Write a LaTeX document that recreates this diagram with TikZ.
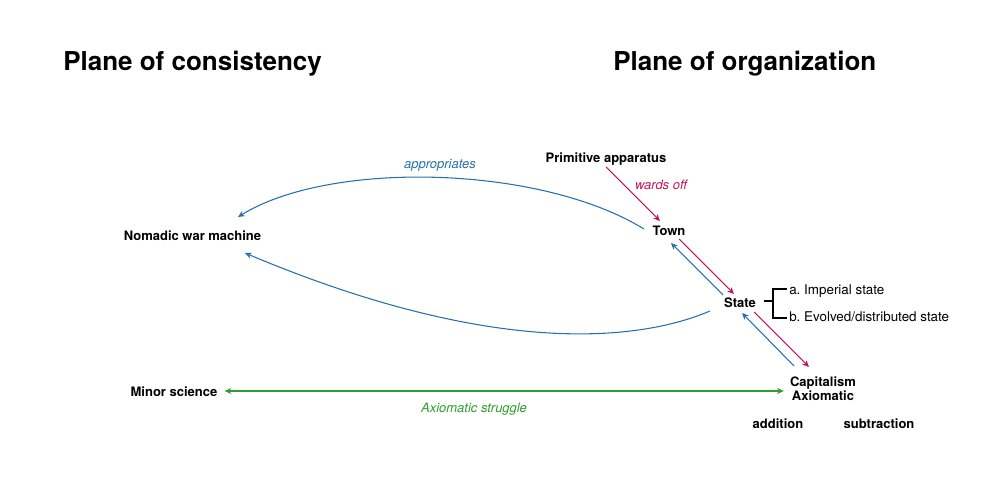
\documentclass[tikz,border=0pt]{standalone}
\usepackage{fontspec}
\setmainfont{TeX Gyre Heros}
\usetikzlibrary{arrows.meta,calc}
\definecolor{cblue}{HTML}{2870AD}
\definecolor{cmag}{HTML}{C2185B}
\definecolor{cgreen}{HTML}{2E9E2E}
\frenchspacing
\begin{document}
\begin{tikzpicture}[x=0.75pt,y=-0.75pt,
  lbl/.style={font=\fontsize{9.75}{10.5}\selectfont\bfseries, inner sep=0, anchor=base},
  txt/.style={font=\fontsize{10.05}{10.5}\selectfont, inner sep=0, anchor=base west},
  ital/.style={font=\fontsize{9.75}{10.5}\selectfont\itshape, inner sep=0, anchor=base},
  ttl/.style={font=\fontsize{19.5}{23}\selectfont\bfseries, inner sep=0, anchor=base west},
  arr/.style={line width=0.8pt, -{Stealth[length=5pt,width=4.5pt]}},
  barr/.style={line width=0.8pt, {Stealth[length=5pt,width=4.5pt]}-{Stealth[length=5pt,width=4.5pt]}},
  brk/.style={line width=0.8pt, black}]
\path[use as bounding box] (0,0) rectangle (1000,499);

% titles
\node[ttl] (t1) at (63,71) {Plane of consistency};
\node[ttl] (t2) at (613,71) {Plane of organization};

% nodes
\node[lbl] (nomad) at (192.5,241) {Nomadic war machine};
\node[lbl] (prim) at (606,163) {Primitive apparatus};
\node[lbl] (town) at (669,236) {Town};
\node[lbl] (state) at (740,307) {State};
\node[lbl, anchor=center, align=center] (cap) at (823,389) {Capitalism\\Axiomatic};
\node[lbl] (minor) at (174,396) {Minor science};
\node[lbl] (add) at (778,428) {addition};
\node[lbl] (sub) at (879,428) {subtraction};
\node[txt] (imp) at (789,294) {a. Imperial state};
\node[txt] (evo) at (789,321) {b. Evolved/distributed state};

% bracket
\draw[brk] ($(state.base east)+(8,-6)$) -- (773,301);
\draw[brk] ($(imp.base west)+(-2,-5)$) -- (773,289) -- (773,318) -- ($(evo.base west)+(-2,-3)$);

% labels on connectors
\node[ital, text=cblue] (appr) at (440,169) {appropriates};
\node[ital, text=cmag] (ward) at (661,190) {wards off};
\node[ital, text=cgreen] (axs) at (474,412) {Axiomatic struggle};

% connectors
\draw[arr, cblue] ($(town.base)+(-25,-7)$) .. controls (540,165) and (330,160) .. ($(nomad.base)+(45.5,-24)$);
\draw[arr, cblue] ($(state.base)+(-30,4)$) .. controls (630,345) and (480,352) .. ($(nomad.base)+(52.5,12)$);

\draw[arr, cmag] ($(prim.base)+(0,4)$) -- ($(town.base)+(-9,-15)$);
\draw[arr, cmag] ($(town.base)+(10,3)$) -- ($(state.base)+(-6,-13)$);
\draw[arr, cblue] ($(state.base)+(-17,-12)$) -- ($(town.base)+(2,7)$);
\draw[arr, cmag] ($(state.base)+(14,5)$) -- ($(cap.center)+(-14,-22)$);
\draw[arr, cblue] ($(cap.center)+(-29,-23)$) -- ($(state.base)+(2,6)$);

\draw[barr, cgreen] ($(minor.base east)+(7,-5)$) -- ($(cap.west)+(-6,2)$);
\end{tikzpicture}
\end{document}
